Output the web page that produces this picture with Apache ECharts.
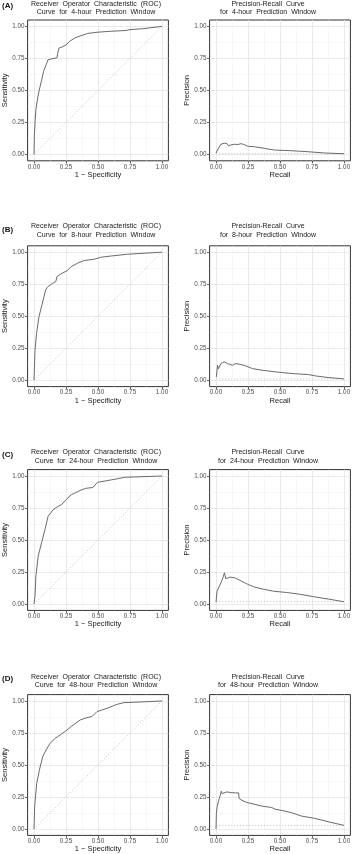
<!DOCTYPE html>
<html>
<head>
<meta charset="utf-8">
<script src="https://cdn.jsdelivr.net/npm/echarts@6/dist/echarts.min.js"></script>
<style>html,body{margin:0;padding:0;background:#fff}#c{width:355px;height:854px}</style>
</head>
<body>
<div id="c"></div>
<script>
// ---- data ----
const panelLabels = ['(A)', '(B)', '(C)', '(D)'];
const windows = ['4-hour', '8-hour', '24-hour', '48-hour'];
const tickVals = [0, 0.25, 0.5, 0.75, 1];
const minorVals = [0.125, 0.375, 0.625, 0.875];
const prevalence = [0.005, 0.01, 0.018, 0.028];
const chanceLine = [[0, 0], [1, 1]];

const rocA = [[0,0],[0.003,0.15],[0.008,0.25],[0.015,0.35],[0.03,0.45],[0.045,0.52],[0.06,0.58],[0.075,0.65],[0.095,0.7],[0.11,0.74],[0.12,0.755],[0.18,0.755],[0.185,0.79],[0.195,0.83],[0.22,0.84],[0.25,0.855],[0.28,0.885],[0.32,0.91],[0.36,0.925],[0.42,0.945],[0.5,0.955],[0.6,0.962],[0.72,0.968],[0.75,0.975],[0.85,0.982],[1,1]];
const rocB = [[0,0],[0.004,0.12],[0.008,0.235],[0.02,0.365],[0.039,0.496],[0.065,0.6],[0.091,0.705],[0.104,0.726],[0.144,0.757],[0.17,0.77],[0.18,0.81],[0.21,0.83],[0.26,0.856],[0.29,0.887],[0.34,0.914],[0.39,0.935],[0.47,0.945],[0.52,0.96],[0.6,0.97],[0.73,0.984],[1,1]];
const rocC = [[0,0],[0.008,0.065],[0.015,0.22],[0.033,0.375],[0.059,0.478],[0.085,0.58],[0.11,0.685],[0.149,0.736],[0.187,0.762],[0.213,0.775],[0.25,0.814],[0.29,0.853],[0.367,0.89],[0.405,0.904],[0.46,0.91],[0.495,0.95],[0.6,0.969],[0.65,0.978],[0.713,0.99],[1,1]];
const rocD = [[0,0],[0.005,0.175],[0.021,0.357],[0.042,0.46],[0.068,0.565],[0.094,0.617],[0.126,0.67],[0.165,0.708],[0.204,0.734],[0.257,0.773],[0.296,0.805],[0.361,0.852],[0.414,0.87],[0.453,0.878],[0.492,0.917],[0.571,0.943],[0.649,0.974],[0.702,0.987],[0.78,0.99],[1,1]];

const prA = [[0,0.01],[0.02,0.05],[0.039,0.08],[0.065,0.087],[0.085,0.085],[0.097,0.068],[0.117,0.074],[0.144,0.079],[0.17,0.077],[0.196,0.084],[0.222,0.076],[0.253,0.063],[0.3,0.06],[0.313,0.053],[0.379,0.047],[0.457,0.034],[0.587,0.029],[0.718,0.021],[0.849,0.011],[1,0.005]];
const prB = [[0.003,0.026],[0.012,0.117],[0.02,0.09],[0.039,0.13],[0.064,0.144],[0.077,0.151],[0.09,0.13],[0.098,0.117],[0.129,0.117],[0.155,0.13],[0.193,0.123],[0.232,0.112],[0.284,0.091],[0.36,0.078],[0.464,0.065],[0.593,0.052],[0.722,0.044],[0.773,0.034],[0.876,0.021],[1,0.01]];
const prC = [[0,0.013],[0.008,0.1],[0.02,0.115],[0.045,0.18],[0.058,0.218],[0.066,0.244],[0.076,0.197],[0.091,0.192],[0.109,0.21],[0.121,0.213],[0.146,0.205],[0.172,0.192],[0.197,0.18],[0.222,0.167],[0.247,0.154],[0.298,0.133],[0.374,0.115],[0.449,0.1],[0.55,0.09],[0.65,0.077],[0.753,0.059],[0.879,0.038],[1,0.018]];
const prD = [[0,0],[0.003,0.12],[0.008,0.17],[0.021,0.225],[0.034,0.264],[0.041,0.295],[0.047,0.277],[0.06,0.282],[0.085,0.29],[0.111,0.285],[0.15,0.282],[0.176,0.282],[0.181,0.238],[0.202,0.225],[0.241,0.207],[0.306,0.192],[0.358,0.179],[0.435,0.168],[0.461,0.155],[0.539,0.14],[0.591,0.127],[0.668,0.101],[0.772,0.083],[0.876,0.057],[1,0.028]];

const rocData = [rocA, rocB, rocC, rocD];
const prData = [prA, prB, prC, prD];

// ---- layout ----
const FONT = 'Liberation Sans, Arial, sans-serif';
const rowTops = [20, 245.8, 469.6, 694.6];
const titleY = [[4, 12.3], [226, 235], [452.3, 461], [676.7, 685.3]];
const labelY = [5.7, 229.3, 455, 679];
const colLeft = [27.6, 209.6];
const titleX = [96, 268];
const SIZE = 140.8;

const grids = [], xAxes = [], yAxes = [], series = [], graphics = [];

function addPanel(r, c) {
  const g = grids.length;
  grids.push({left: colLeft[c], top: rowTops[r], width: SIZE, height: SIZE, show: true,
    borderColor: '#333', borderWidth: 1, backgroundColor: '#fff', containLabel: false, outerBoundsMode: 'none'});
  const mainAxis = (name, isX) => ({
    gridIndex: g, type: 'value', min: -0.05, max: 1.05, position: isX ? 'bottom' : 'left',
    name: name, nameLocation: 'middle', nameGap: isX ? 9 : 17,
    nameTextStyle: {fontFamily: FONT, fontSize: 7.5, color: '#1a1a1a'},
    axisLine: {show: false, onZero: false},
    axisTick: {show: true, customValues: tickVals, length: 2.5, lineStyle: {color: '#333', width: 0.8}},
    axisLabel: {customValues: tickVals, formatter: v => v.toFixed(2), fontFamily: FONT, fontSize: 6.3, color: '#4d4d4d', margin: 3},
    splitLine: {show: true, lineStyle: {color: '#e4e4e4', width: 0.8}}
  });
  const minorAxis = (isX) => ({
    gridIndex: g, type: 'value', min: -0.05, max: 1.05, position: isX ? 'bottom' : 'left',
    axisLine: {show: false, onZero: false},
    axisTick: {show: false, customValues: minorVals},
    axisLabel: {show: false, customValues: minorVals},
    splitLine: {show: true, lineStyle: {color: '#f1f1f1', width: 0.5}}
  });
  const isRoc = c === 0;
  xAxes.push(mainAxis(isRoc ? '1 \u2212 Specificity' : 'Recall', true), minorAxis(true));
  yAxes.push(mainAxis(isRoc ? 'Sensitivity' : 'Precision', false), minorAxis(false));
  const xi = 2 * g, yi = 2 * g;
  const refData = isRoc ? chanceLine : [[0, prevalence[r]], [1, prevalence[r]]];
  series.push({type: 'line', xAxisIndex: xi, yAxisIndex: yi, data: refData, showSymbol: false, silent: true,
    lineStyle: {color: '#bdbdbd', width: 0.8, type: [1.2, 1.8]}, z: 2});
  series.push({type: 'line', xAxisIndex: xi, yAxisIndex: yi, data: isRoc ? rocData[r] : prData[r], showSymbol: false,
    lineStyle: {color: '#6b6b6b', width: 1}, z: 3});
  const lines = isRoc
    ? ['Receiver  Operator  Characteristic  (ROC)', 'Curve  for  ' + windows[r] + '  Prediction  Window']
    : ['Precision-Recall  Curve', 'for  ' + windows[r] + '  Prediction  Window'];
  lines.forEach((t, i) => graphics.push({type: 'text', x: titleX[c], y: titleY[r][i],
    style: {text: t, fontFamily: FONT, fontSize: 7, fill: '#1a1a1a', textAlign: 'center', textVerticalAlign: 'middle'}}));
}

for (let r = 0; r < 4; r++) {
  addPanel(r, 0); addPanel(r, 1);
  graphics.push({type: 'text', x: 2, y: labelY[r],
    style: {text: panelLabels[r], fontFamily: FONT, fontSize: 8, fontWeight: 'bold', fill: '#111', textAlign: 'left', textVerticalAlign: 'middle'}});
}

const chart = echarts.init(document.getElementById('c'), null, {renderer: 'canvas'});
chart.setOption({
  animation: false,
  backgroundColor: '#fff',
  grid: grids, xAxis: xAxes, yAxis: yAxes, series: series, graphic: graphics
});
</script>
</body>
</html>
